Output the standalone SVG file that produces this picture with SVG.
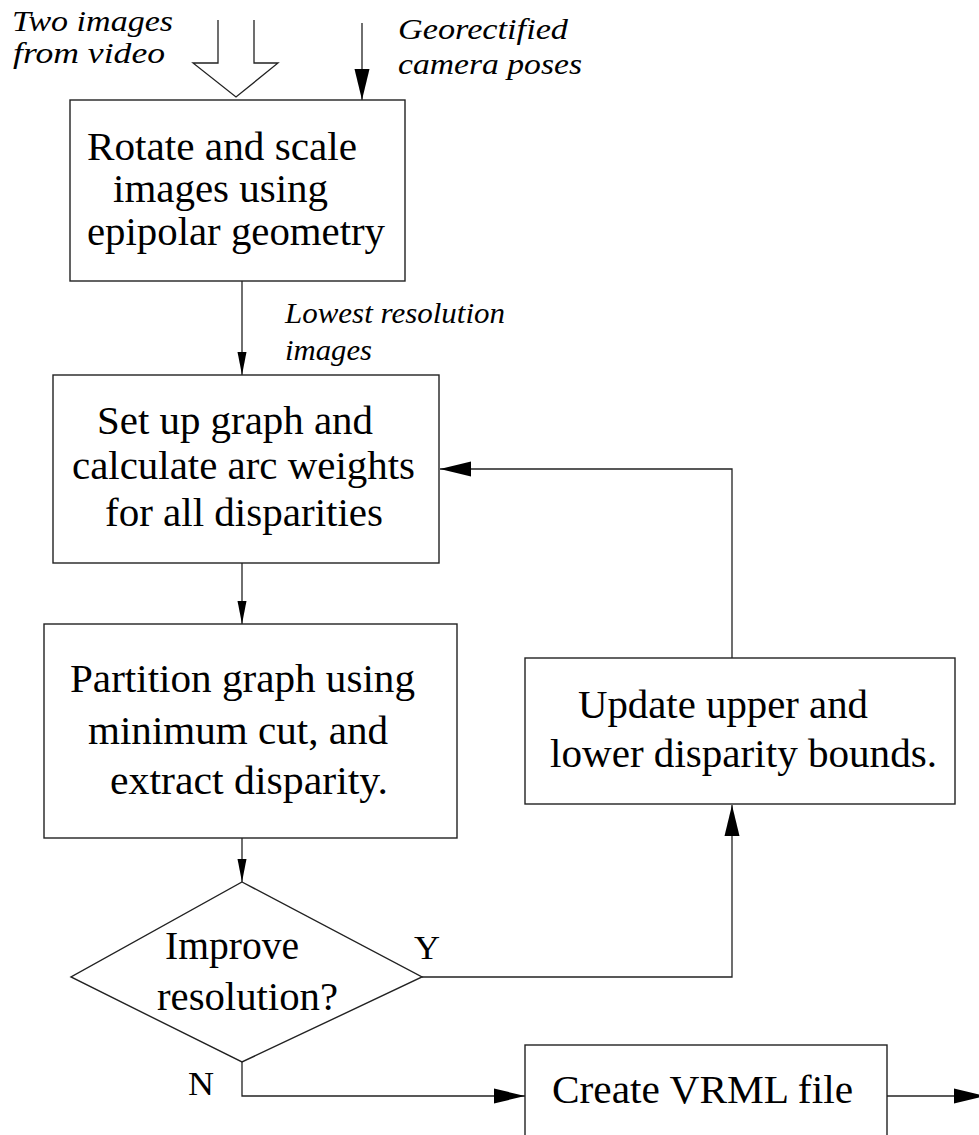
<svg xmlns="http://www.w3.org/2000/svg" width="979" height="1135" viewBox="0 0 979 1135">
<style>
.box{fill:#fff;stroke:#222;stroke-width:1.4}
.ln{fill:none;stroke:#222;stroke-width:1.3}
.t{font-family:"Liberation Serif","Times New Roman",Times,serif;font-size:41px;fill:#000}
.lab{font-family:"Liberation Serif","Times New Roman",Times,serif;font-style:italic;font-size:30px;fill:#000}
.yn{font-family:"Liberation Serif","Times New Roman",Times,serif;font-size:33px;fill:#000}
</style>
<defs>
<marker id="big" markerUnits="userSpaceOnUse" markerWidth="32" markerHeight="16" viewBox="0 0 32 16" refX="31" refY="8" orient="auto"><path d="M0,0.5 L31,8 L0,15.5 z" fill="#000"/></marker>
<marker id="small" markerUnits="userSpaceOnUse" markerWidth="24" markerHeight="10" viewBox="0 0 24 10" refX="23" refY="5" orient="auto"><path d="M0,0.5 L23,5 L0,9.5 z" fill="#000"/></marker>
</defs>
<rect width="979" height="1135" fill="#fff"/>
<g id="inputs">
<polyline class="ln" points="218,20 218,63 193,63 236,97 278,63 254,63 254,20" fill="#fff"/>
<text class="lab" x="12" y="31" textLength="161" lengthAdjust="spacingAndGlyphs">Two images</text>
<text class="lab" x="13" y="63" textLength="152" lengthAdjust="spacingAndGlyphs">from video</text>
<text class="lab" x="398" y="39" textLength="170" lengthAdjust="spacingAndGlyphs">Georectified</text>
<text class="lab" x="398" y="74" textLength="184" lengthAdjust="spacingAndGlyphs">camera poses</text>
<text class="lab" x="285" y="323" textLength="220" lengthAdjust="spacingAndGlyphs">Lowest resolution</text>
<text class="lab" x="285" y="360" textLength="87" lengthAdjust="spacingAndGlyphs">images</text>
</g>
<g id="connectors">
<path class="ln" d="M362,23 V100" marker-end="url(#big)"/>
<path class="ln" d="M242,281 V375" marker-end="url(#small)"/>
<path class="ln" d="M242,563 V624" marker-end="url(#small)"/>
<path class="ln" d="M242,838 V882" marker-end="url(#small)"/>
<path class="ln" d="M422,977 H732 V805" marker-end="url(#big)"/>
<path class="ln" d="M732,658 V469 H440" marker-end="url(#big)"/>
<path class="ln" d="M242,1062 V1096 H525" marker-end="url(#big)"/>
<path class="ln" d="M887,1096 H985" marker-end="url(#big)"/>
<text class="yn" x="414" y="959" textLength="26" lengthAdjust="spacingAndGlyphs">Y</text>
<text class="yn" x="188" y="1095" textLength="26" lengthAdjust="spacingAndGlyphs">N</text>
</g>
<g id="rotate">
<rect class="box" x="70" y="100" width="335" height="181"/>
<text class="t" x="87" y="160" textLength="270" lengthAdjust="spacingAndGlyphs">Rotate and scale</text>
<text class="t" x="113" y="202" textLength="215" lengthAdjust="spacingAndGlyphs">images using</text>
<text class="t" x="87" y="245" textLength="298" lengthAdjust="spacingAndGlyphs">epipolar geometry</text>
</g>
<g id="setup">
<rect class="box" x="53" y="375" width="386" height="188"/>
<text class="t" x="97" y="434" textLength="276" lengthAdjust="spacingAndGlyphs">Set up graph and</text>
<text class="t" x="72" y="479" textLength="343" lengthAdjust="spacingAndGlyphs">calculate arc weights</text>
<text class="t" x="105" y="526" textLength="278" lengthAdjust="spacingAndGlyphs">for all disparities</text>
</g>
<g id="partition">
<rect class="box" x="44" y="624" width="413" height="214"/>
<text class="t" x="70" y="692" textLength="345" lengthAdjust="spacingAndGlyphs">Partition graph using</text>
<text class="t" x="88" y="744" textLength="300" lengthAdjust="spacingAndGlyphs">minimum cut, and</text>
<text class="t" x="110" y="794" textLength="278" lengthAdjust="spacingAndGlyphs">extract disparity.</text>
</g>
<g id="update">
<rect class="box" x="525" y="658" width="430" height="146"/>
<text class="t" x="578" y="718" textLength="290" lengthAdjust="spacingAndGlyphs">Update upper and</text>
<text class="t" x="550" y="767" textLength="387" lengthAdjust="spacingAndGlyphs">lower disparity bounds.</text>
</g>
<g id="decision">
<polygon class="box" points="242,882 422,977 242,1062 71,977"/>
<text class="t" x="165" y="959" textLength="134" lengthAdjust="spacingAndGlyphs">Improve</text>
<text class="t" x="157" y="1010" textLength="181" lengthAdjust="spacingAndGlyphs">resolution?</text>
</g>
<g id="vrml">
<rect class="box" x="525" y="1045" width="362" height="100"/>
<text class="t" x="552" y="1103" textLength="301" lengthAdjust="spacingAndGlyphs">Create VRML file</text>
</g>
</svg>
